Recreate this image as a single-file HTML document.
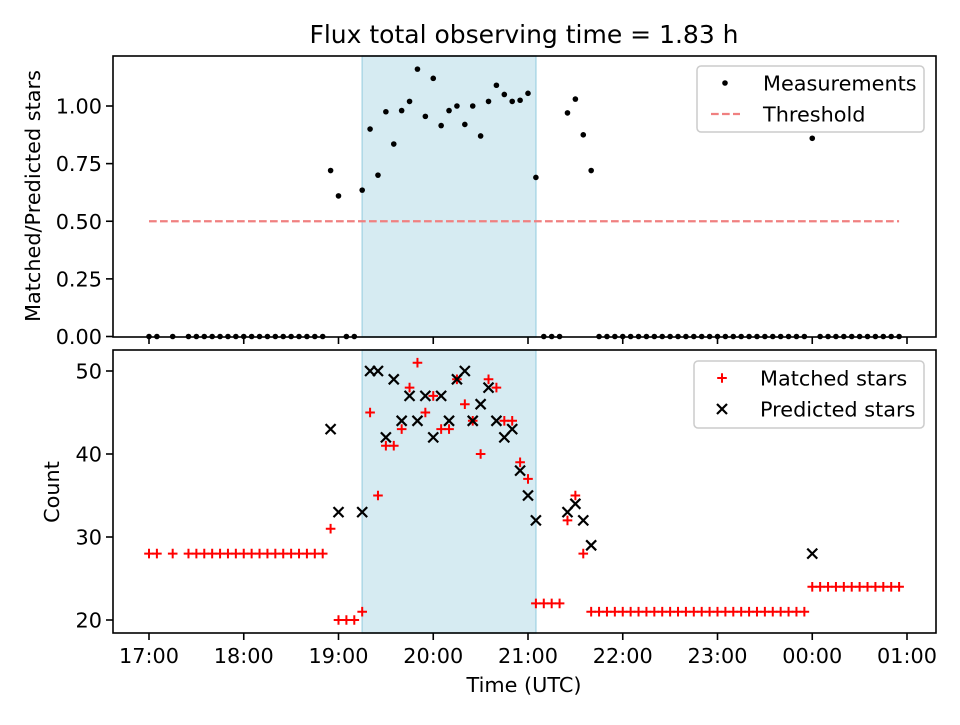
<!DOCTYPE html>
<html><head><meta charset="utf-8"><style>
body{margin:0;background:#fff}
svg{font-family:"DejaVu Sans","Liberation Sans",sans-serif}
</style></head><body>
<svg id="chart" width="960" height="720" viewBox="0 0 960 720">
<rect width="960" height="720" fill="#fff"/>
<text x="524" y="43" font-size="25" text-anchor="middle">Flux total observing time = 1.83 h</text>
<g id="topPanel"></g>
<g id="botPanel"></g>
<text x="524" y="692" font-size="20.8" text-anchor="middle">Time (UTC)</text>
<text transform="translate(40,196) rotate(-90)" font-size="20.8" text-anchor="middle">Matched/Predicted stars</text>
<text transform="translate(59,492) rotate(-90)" font-size="20.8" text-anchor="middle">Count</text>
</svg>
<script>
const times=[0,5,15,25,30,35,40,45,50,55,60,65,70,75,80,85,90,95,100,105,110,115,120,125,130,135,140,145,150,155,160,165,170,175,180,185,190,195,200,205,210,215,220,225,230,235,240,245,250,255,260,265,270,275,280,285,290,295,300,305,310,315,320,325,330,335,340,345,350,355,360,365,370,375,380,385,390,395,400,405,410,415,420,425,430,435,440,445,450,455,460,465,470,475];
const ratio=[0,0,0,0,0,0,0,0,0,0,0,0,0,0,0,0,0,0,0,0,0,0.72,0.61,0,0,0.635,0.90,0.70,0.975,0.835,0.98,1.02,1.16,0.955,1.12,0.915,0.98,1.00,0.92,1.00,0.87,1.02,1.09,1.05,1.02,1.025,1.055,0.69,0,0,0,0.97,1.03,0.875,0.72,0,0,0,0,0,0,0,0,0,0,0,0,0,0,0,0,0,0,0,0,0,0,0,0,0,0,0,0.86,0,0,0,0,0,0,0,0,0,0,0];
const matched=[28,28,28,28,28,28,28,28,28,28,28,28,28,28,28,28,28,28,28,28,28,31,20,20,20,21,45,35,41,41,43,48,51,45,47,43,43,49,46,44,40,49,48,44,44,39,37,22,22,22,22,32,35,28,21,21,21,21,21,21,21,21,21,21,21,21,21,21,21,21,21,21,21,21,21,21,21,21,21,21,21,21,24,24,24,24,24,24,24,24,24,24,24,24];
const predicted=[null,null,null,null,null,null,null,null,null,null,null,null,null,null,null,null,null,null,null,null,null,43,33,null,null,33,50,50,42,49,44,47,44,47,42,47,44,49,50,44,46,48,44,42,43,38,35,32,null,null,null,33,34,32,29,null,null,null,null,null,null,null,null,null,null,null,null,null,null,null,null,null,null,null,null,null,null,null,null,null,null,null,28,null,null,null,null,null,null,null,null,null,null,null];
const threshold=0.5;
const shadeStart=135, shadeEnd=245;
const xTickMinutes=[0,60,120,180,240,300,360,420,480];
const xTickLabels=["17:00","18:00","19:00","20:00","21:00","22:00","23:00","00:00","01:00"];
const topTicks=[0,0.25,0.5,0.75,1.0];
const topTickLabels=["0.00","0.25","0.50","0.75","1.00"];
const botTicks=[20,30,40,50];
const botTickLabels=["20","30","40","50"];

const NS="http://www.w3.org/2000/svg";
const L=113,R=936;
const FS=20.8;
const xs=m=>149+m*(758/480);
const yT=v=>336.5-v*230.5;
const yB=v=>371+(50-v)*8.3;
function mk(p,tag,a){const e=document.createElementNS(NS,tag);for(const k in a)e.setAttribute(k,a[k]);p.appendChild(e);return e;}
const topG=document.getElementById('topPanel'),botG=document.getElementById('botPanel');

function panel(g,T,B,ys,ticks,labels,nm,showX){
  let r=mk(g,'rect',{x:xs(shadeStart),y:T,width:xs(shadeEnd)-xs(shadeStart),height:B-T,fill:'#add8e6','fill-opacity':0.5,stroke:'#add8e6','stroke-width':1.5});
  
  
  ticks.forEach((t,i)=>{
    let l=mk(g,'line',{x1:L-7,x2:L,y1:ys(t),y2:ys(t),stroke:'#000','stroke-width':1.6});
    
    
    let tx=mk(g,'text',{x:L-11,y:ys(t)+7.5,'font-size':FS,'text-anchor':'end'});
    tx.textContent=labels[i];
    
    
  });
  xTickMinutes.forEach((m,i)=>{
    let l=mk(g,'line',{x1:xs(m),x2:xs(m),y1:B,y2:B+7,stroke:'#000','stroke-width':1.6});
    
    
    if(showX){
      let tx=mk(g,'text',{x:xs(m),y:B+30,'font-size':FS,'text-anchor':'middle'});
      tx.textContent=xTickLabels[i];
      
      
    }
  });
}
panel(topG,56,337,yT,topTicks,topTickLabels,'top',false);
panel(botG,350,633,yB,botTicks,botTickLabels,'bottom',true);

let th=mk(topG,'line',{x1:xs(0),x2:xs(times[times.length-1]),y1:yT(threshold),y2:yT(threshold),stroke:'#f08080','stroke-width':2.2,'stroke-dasharray':'7.7,3.3'});


times.forEach((t,i)=>{
  let c=mk(topG,'circle',{cx:xs(t),cy:yT(ratio[i]),r:2.8,fill:'#000'});
  
  
});
times.forEach((t,i)=>{
  const x=xs(t),y=yB(matched[i]);
  let p=mk(botG,'path',{d:`M${x-4.8},${y}H${x+4.8}M${x},${y-4.8}V${y+4.8}`,stroke:'#f00','stroke-width':2,fill:'none'});
  
  
});
times.forEach((t,i)=>{
  if(predicted[i]===null)return;
  const x=xs(t),y=yB(predicted[i]),s=5;
  let p=mk(botG,'path',{d:`M${x-s},${y-s}L${x+s},${y+s}M${x-s},${y+s}L${x+s},${y-s}`,stroke:'#000','stroke-width':2.2,fill:'none'});
  
  
});
[[topG,56,337,'top'],[botG,350,633,'bottom']].forEach(([g,T,B,nm])=>{
  let f=mk(g,'rect',{x:L,y:T,width:R-L,height:B-T,fill:'none',stroke:'#000','stroke-width':1.6});
  
  
});
function legend(g,x,y,w,h,items,nm){
  let lg=mk(g,'g',{});
  
  
  mk(lg,'rect',{x:x,y:y,width:w,height:h,rx:4,fill:'#fff','fill-opacity':0.8,stroke:'#ccc','stroke-width':1.5});
  items.forEach((it,i)=>{
    const cy=y+17+i*31;
    let e=mk(lg,'g',{});
    
    
    it.draw(e,x+28,cy);
    let t=mk(e,'text',{x:x+66,y:cy+7.5,'font-size':FS});t.textContent=it.label;
  });
}
legend(topG,697,66,227,66,[
 {label:'Measurements',draw:(e,x,y)=>mk(e,'circle',{cx:x,cy:y,r:2.8,fill:'#000'})},
 {label:'Threshold',draw:(e,x,y)=>mk(e,'line',{x1:x-14,x2:x+15,y1:y,y2:y,stroke:'#f08080','stroke-width':2.2,'stroke-dasharray':'7.7,3.3'})}
],'top-legend');
legend(botG,694,361,230,67,[
 {label:'Matched stars',draw:(e,x,y)=>mk(e,'path',{d:`M${x-4.8},${y}H${x+4.8}M${x},${y-4.8}V${y+4.8}`,stroke:'#f00','stroke-width':2})},
 {label:'Predicted stars',draw:(e,x,y)=>mk(e,'path',{d:`M${x-5},${y-5}L${x+5},${y+5}M${x-5},${y+5}L${x+5},${y-5}`,stroke:'#000','stroke-width':2.2})}
],'bottom-legend');
</script>
</body></html>
